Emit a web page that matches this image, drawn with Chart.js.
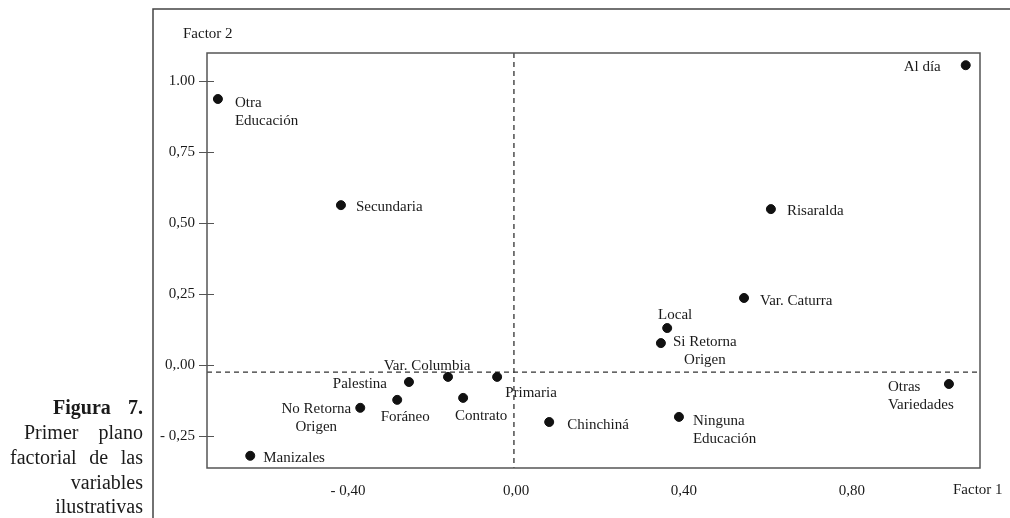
<!DOCTYPE html>
<html>
<head>
<meta charset="utf-8">
<script src="https://cdn.jsdelivr.net/npm/chart.js@4/dist/chart.umd.min.js"></script>
<style>
  html, body { margin: 0; padding: 0; background: #fff; }
  #wrap { position: relative; width: 1010px; height: 518px; }
</style>
</head>
<body>
<div id="wrap"><canvas id="chart" width="1010" height="518"></canvas></div>
<script>
// Categories and factor coordinates
const names = [
    ['Al día'], ['Otra', 'Educación'], ['Secundaria'], ['Risaralda'], ['Var. Caturra'],
    ['Local'], ['Si Retorna', 'Origen'], ['Otras', 'Variedades'], ['Ninguna', 'Educación'],
    ['Chinchiná'], ['Primaria'], ['Contrato'], ['Var. Columbia'], ['Palestina'],
    ['Foráneo'], ['No Retorna', 'Origen'], ['Manizales']
];
const factor1 = [1.071, -0.710, -0.417, 0.607, 0.543, 0.360, 0.345, 1.031, 0.388,
    0.079, -0.045, -0.126, -0.162, -0.255, -0.283, -0.371, -0.633];
const factor2 = [1.056, 0.937, 0.563, 0.549, 0.236, 0.130, 0.077, -0.067, -0.183,
    -0.201, -0.042, -0.116, -0.042, -0.060, -0.123, -0.151, -0.320];

const xTicks = [-0.4, 0, 0.4, 0.8];
const xTickLabels = ['- 0,40', '0,00', '0,40', '0,80'];
const yTicks = [1, 0.75, 0.5, 0.25, 0, -0.25];
const yTickLabels = ['1.00', '0,75', '0,50', '0,25', '0,.00', '- 0,25'];

// where the dashed reference lines cross
const crossX = -0.005;
const crossY = -0.025;

// label placement: [dx, dy, align] relative to the dot, line height 18
const labelPos = [
    [-25, 2, 'right'], [17, 4, 'left'], [15, 2, 'left'], [16, 2, 'left'], [16, 3, 'left'],
    [8, -13, 'center'], [44, -1, 'center'], [-61, 3, 'left'], [14, 4, 'left'],
    [18, 3, 'left'], [8, 16, 'left'], [18, 18, 'center'], [-21, -11, 'center'], [-22, 2, 'right'],
    [8, 17, 'center'], [-44, 1, 'center'], [13, 2, 'left']
];

const captionLines = ['Figura 7.', 'Primer plano', 'factorial de las', 'variables', 'ilustrativas'];
const captionLeft = [53, 24, 10, 72, 43];

const SERIF = '"Liberation Serif", "DejaVu Serif", serif';
const INK = '#1a1a1a';

const decorPlugin = {
    id: 'decor',
    beforeDatasetsDraw(chart) {
        const ctx = chart.ctx;
        const a = chart.chartArea;
        const xs = chart.scales.x, ys = chart.scales.y;
        ctx.save();
        ctx.strokeStyle = '#333';
        ctx.lineWidth = 1.3;
        ctx.setLineDash([5, 4]);
        const py = ys.getPixelForValue(crossY);
        const px = xs.getPixelForValue(crossX);
        ctx.beginPath();
        ctx.moveTo(a.left, py); ctx.lineTo(a.right, py);
        ctx.moveTo(px, a.top); ctx.lineTo(px, a.bottom);
        ctx.stroke();
        ctx.restore();
    },
    afterDatasetsDraw(chart) {
        const ctx = chart.ctx;
        const meta = chart.getDatasetMeta(0);
        ctx.save();
        ctx.fillStyle = INK;
        ctx.font = '15px ' + SERIF;
        ctx.textBaseline = 'middle';
        meta.data.forEach((pt, i) => {
            const [dx, dy, align] = labelPos[i];
            ctx.textAlign = align;
            names[i].forEach((line, k) => {
                ctx.fillText(line, pt.x + dx, pt.y + dy + k * 18);
            });
        });
        ctx.restore();
    },
    afterDraw(chart) {
        const ctx = chart.ctx;
        const a = chart.chartArea;
        const ys = chart.scales.y;
        ctx.save();
        // plot box
        ctx.strokeStyle = '#555';
        ctx.lineWidth = 1.5;
        ctx.strokeRect(a.left, a.top, a.right - a.left, a.bottom - a.top);
        // y tick crosses
        ctx.beginPath();
        yTicks.forEach(v => {
            const y = Math.round(ys.getPixelForValue(v)) + 0.5;
            ctx.moveTo(a.left - 8, y); ctx.lineTo(a.left + 7, y);
        });
        ctx.lineWidth = 1;
        ctx.stroke();
        // outer page frame
        ctx.strokeStyle = '#444';
        ctx.lineWidth = 1.5;
        ctx.beginPath();
        ctx.moveTo(153, 518); ctx.lineTo(153, 9); ctx.lineTo(1010, 9);
        ctx.stroke();

        // axis names
        ctx.fillStyle = INK;
        ctx.font = '15px ' + SERIF;
        ctx.textBaseline = 'middle';
        ctx.textAlign = 'left';
        ctx.fillText('Factor 2', 183, 34);
        ctx.fillText('Factor 1', 953, 490);

        // caption, justified against the frame
        const right = 143;
        captionLines.forEach((line, i) => {
            ctx.font = (i === 0 ? 'bold ' : '') + '20px ' + SERIF;
            const words = line.split(' ');
            const target = right - captionLeft[i];
            const y = 409 + i * 24.8;
            if (words.length === 1) {
                ctx.textAlign = 'right';
                ctx.fillText(line, right, y);
                return;
            }
            const widths = words.map(w => ctx.measureText(w).width);
            const total = widths.reduce((s, w) => s + w, 0);
            const gap = Math.max(4, (target - total) / (words.length - 1));
            let x = right - total - gap * (words.length - 1);
            ctx.textAlign = 'left';
            words.forEach((w, k) => {
                ctx.fillText(w, x, y);
                x += widths[k] + gap;
            });
        });
        ctx.restore();
    }
};

new Chart(document.getElementById('chart'), {
    type: 'scatter',
    data: {
        datasets: [{
            data: factor1.map((x, i) => ({ x: x, y: factor2[i] })),
            backgroundColor: '#111',
            borderColor: '#111',
            pointRadius: 4.5,
            pointHoverRadius: 4.5
        }]
    },
    options: {
        responsive: false,
        animation: false,
        events: [],
        layout: { padding: { left: 153, top: 53, right: 30, bottom: 0 } },
        plugins: { legend: { display: false }, tooltip: { enabled: false } },
        scales: {
            x: {
                type: 'linear',
                min: -0.736,
                max: 1.105,
                afterBuildTicks(scale) { scale.ticks = xTicks.map(v => ({ value: v })); },
                afterFit(scale) { scale.height = 50; },
                grid: { display: false, drawTicks: false },
                border: { display: false },
                ticks: {
                    autoSkip: false,
                    maxRotation: 0,
                    padding: 14,
                    color: INK,
                    font: { family: SERIF, size: 15 },
                    callback: (v) => xTickLabels[xTicks.indexOf(v)]
                }
            },
            y: {
                type: 'linear',
                min: -0.363,
                max: 1.099,
                afterBuildTicks(scale) { scale.ticks = yTicks.map(v => ({ value: v })); },
                afterFit(scale) { scale.width = 54; },
                grid: { display: false, drawTicks: false },
                border: { display: false },
                ticks: {
                    autoSkip: false,
                    padding: 12,
                    color: INK,
                    font: { family: SERIF, size: 15 },
                    callback: (v) => yTickLabels[yTicks.indexOf(v)]
                }
            }
        }
    },
    plugins: [decorPlugin]
});
</script>
</body>
</html>
